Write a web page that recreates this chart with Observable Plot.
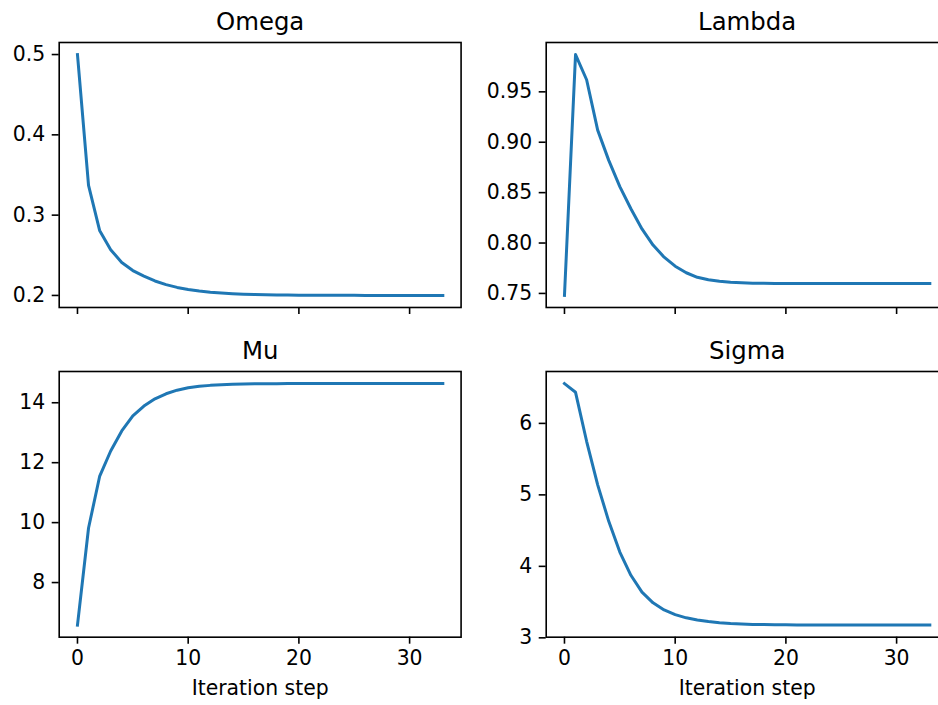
<!DOCTYPE html>
<html>
<head>
<meta charset="utf-8">
<script src="https://cdn.jsdelivr.net/npm/d3@7"></script>
<script src="https://cdn.jsdelivr.net/npm/@observablehq/plot@0.6"></script>
<style>
  html, body { margin: 0; padding: 0; background: #fff; overflow: hidden; }
  #fig { position: relative; width: 960px; height: 705px; background: #fff; }
  #fig svg { position: absolute; }
</style>
</head>
<body>
<div id="fig"></div>
<script>
// Iteration steps shared by all four parameter traces
const steps = [0, 1, 2, 3, 4, 5, 6, 7, 8, 9, 10, 11, 12, 13, 14, 15, 16,
               17, 18, 19, 20, 21, 22, 23, 24, 25, 26, 27, 28, 29, 30, 31, 32, 33];

// Parameter estimates at each iteration
const omega = [0.500, 0.337, 0.281, 0.257, 0.241, 0.231, 0.224, 0.218, 0.2135, 0.210,
               0.2075, 0.2055, 0.2040, 0.2030, 0.2022, 0.2016, 0.2012, 0.2009, 0.2006, 0.2005,
               0.2003, 0.2002, 0.2002, 0.2001, 0.2001, 0.2001, 0.2000, 0.2000, 0.2000, 0.2000,
               0.2000, 0.2000, 0.2000, 0.2000];
const lambda = [0.748, 0.987, 0.962, 0.912, 0.882, 0.856, 0.834, 0.814, 0.798, 0.786,
                0.777, 0.7705, 0.766, 0.7635, 0.762, 0.761, 0.7605, 0.7602, 0.7600, 0.7599,
                0.7599, 0.7598, 0.7598, 0.7598, 0.7598, 0.7598, 0.7598, 0.7598, 0.7598, 0.7598,
                0.7598, 0.7598, 0.7598, 0.7598];
const mu = [6.58, 9.82, 11.54, 12.39, 13.06, 13.56, 13.89, 14.13, 14.30, 14.42,
            14.50, 14.55, 14.58, 14.60, 14.615, 14.625, 14.63, 14.635, 14.638, 14.64,
            14.64, 14.64, 14.64, 14.64, 14.64, 14.64, 14.64, 14.64, 14.64, 14.64,
            14.64, 14.64, 14.64, 14.64];
const sigma = [6.557, 6.435, 5.75, 5.14, 4.63, 4.20, 3.875, 3.64, 3.49, 3.39,
               3.325, 3.28, 3.25, 3.228, 3.212, 3.200, 3.193, 3.188, 3.185, 3.183,
               3.182, 3.181, 3.180, 3.179, 3.179, 3.178, 3.178, 3.178, 3.178, 3.178,
               3.178, 3.178, 3.178, 3.178];

// Tick values for each axis
const xTicks = [0, 10, 20, 30];
const omegaTicks = [0.2, 0.3, 0.4, 0.5];
const lambdaTicks = [0.75, 0.80, 0.85, 0.90, 0.95];
const muTicks = [8, 10, 12, 14];
const sigmaTicks = [3, 4, 5, 6];

const titles = ["Omega", "Lambda", "Mu", "Sigma"];
const xLabel = "Iteration step";

// Layout of the 2x2 grid
const ML = 58.7, MR = 6, PLOT_W = 401.9;
const W = ML + PLOT_W + MR;
const COL_LEFT = [0, 487.3];
const ROW_TOP = [0, 329];
const ROW_H = [331, 376];
const PLOT_H = [265, 265.7];
const FONT = "DejaVu Sans";

function padded(values) {
  const [lo, hi] = d3.extent(values);
  const pad = (hi - lo) * 0.05;
  return [lo - pad, hi + pad];
}

function panel({title, values, ticks, format, col, row}) {
  const bottomRow = row === 1;
  const data = steps.map((s, i) => ({step: s, value: values[i]}));
  const chart = Plot.plot({
    width: W,
    height: ROW_H[row],
    marginLeft: ML,
    marginRight: MR,
    marginTop: 42,
    marginBottom: ROW_H[row] - 42 - PLOT_H[row],
    style: {fontFamily: FONT, fontSize: "20.4px", color: "#000", background: "transparent", overflow: "visible"},
    x: {domain: [-1.65, 34.65]},
    y: {domain: padded(values)},
    marks: [
      Plot.frame({stroke: "#000", strokeWidth: 1.6}),
      Plot.axisY({ticks, tickFormat: d3.format(format), tickSize: 7, tickPadding: 7,
                  strokeWidth: 1.6, label: null}),
      Plot.axisX({ticks: xTicks, tickFormat: bottomRow ? (d => String(d)) : (() => ""),
                  tickSize: 7, tickPadding: 6, strokeWidth: 1.6, label: null}),
      Plot.line(data, {x: "step", y: "value", stroke: "#1f77b4", strokeWidth: 3,
                       strokeLinejoin: "round", strokeLinecap: "square"}),
      Plot.text([title], {text: d => d, frameAnchor: "top", dy: -12, lineAnchor: "bottom",
                          fontSize: 24.4}),
      bottomRow
        ? Plot.text([xLabel], {text: d => d, frameAnchor: "bottom", dy: 58, lineAnchor: "bottom",
                               fontSize: 20.4})
        : null
    ]
  });
  chart.style.left = COL_LEFT[col] + "px";
  chart.style.top = ROW_TOP[row] + "px";
  document.getElementById("fig").appendChild(chart);
}

panel({title: titles[0], values: omega, ticks: omegaTicks, format: ".1f", col: 0, row: 0});
panel({title: titles[1], values: lambda, ticks: lambdaTicks, format: ".2f", col: 1, row: 0});
panel({title: titles[2], values: mu, ticks: muTicks, format: "d", col: 0, row: 1});
panel({title: titles[3], values: sigma, ticks: sigmaTicks, format: "d", col: 1, row: 1});
</script>
</body>
</html>
